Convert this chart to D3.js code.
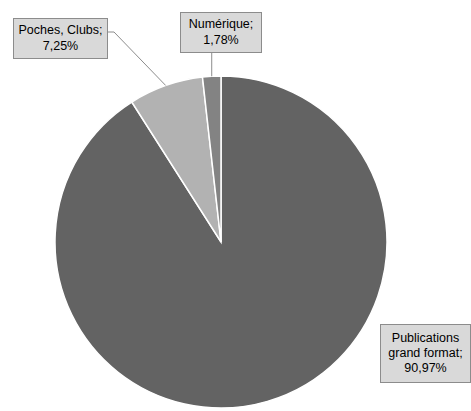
<!DOCTYPE html>
<meta charset="utf-8">
<style>
body { margin: 0; background: #fff; }
.lbl { font-family: "Liberation Sans", Arial, sans-serif; font-size: 12.5px; fill: #000; }
</style>
<body>
<script src="https://d3js.org/d3.v7.min.js"></script>
<script>
var categories = ["Publications grand format", "Poches, Clubs", "Numérique"];
var shares = [90.97, 7.25, 1.78];
var labelLines = [["Publications", "grand format;", "90,97%"], ["Poches, Clubs;", "7,25%"], ["Numérique;", "1,78%"]];

var width = 471, height = 411;
var cx = 221, cy = 242, radius = 166;
var colors = ["#636363", "#b2b2b2", "#838383"];
// label boxes: x, y, w, h, first baseline offset, line step
var boxes = [[380, 324, 91, 58, 18, 15], [13, 18, 95, 40, 16, 16], [180, 12, 82, 40, 16, 16]];

var svg = d3.select("body").append("svg")
  .attr("width", width)
  .attr("height", height);

var pie = d3.pie().sort(null).value(function(d) { return d; });
var arc = d3.arc().innerRadius(0).outerRadius(radius);
var arcs = pie(shares);

var g = svg.append("g").attr("transform", "translate(" + cx + "," + cy + ")");

g.selectAll("path")
  .data(arcs)
  .enter().append("path")
  .attr("d", arc)
  .attr("fill", function(d, i) { return colors[i]; })
  .attr("stroke", "#fff")
  .attr("stroke-width", 1.5);

// leader lines to outer arc midpoint
function edgePoint(d) {
  var a = (d.startAngle + d.endAngle) / 2;
  return [cx + radius * Math.sin(a), cy - radius * Math.cos(a)];
}

var p1 = edgePoint(arcs[1]);
svg.append("polyline")
  .attr("points", [[108, 32], [114, 32], p1].join(" "))
  .attr("fill", "none")
  .attr("stroke", "#8c8c8c")
  .attr("stroke-width", 1);

var p2 = edgePoint(arcs[2]);
svg.append("line")
  .attr("x1", p2[0]).attr("y1", 52)
  .attr("x2", p2[0]).attr("y2", p2[1])
  .attr("stroke", "#8c8c8c")
  .attr("stroke-width", 1);

var lab = svg.selectAll(".box")
  .data(categories)
  .enter().append("g")
  .attr("class", "box");

lab.append("rect")
  .attr("x", function(d, i) { return boxes[i][0] + 0.5; })
  .attr("y", function(d, i) { return boxes[i][1] + 0.5; })
  .attr("width", function(d, i) { return boxes[i][2] - 1; })
  .attr("height", function(d, i) { return boxes[i][3]; })
  .attr("fill", "#d9d9d9")
  .attr("stroke", "#8c8c8c");

lab.each(function(d, i) {
  var b = boxes[i];
  var t = d3.select(this).append("text")
    .attr("class", "lbl")
    .attr("text-anchor", "middle");
  labelLines[i].forEach(function(s, j) {
    t.append("tspan")
      .attr("x", b[0] + b[2] / 2)
      .attr("y", b[1] + b[4] + j * b[5])
      .text(s);
  });
});
</script>
</body>
